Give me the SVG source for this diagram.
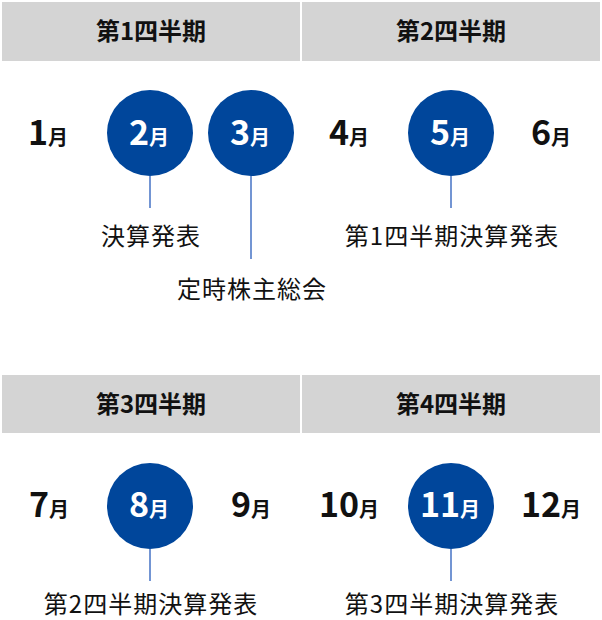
<svg xmlns="http://www.w3.org/2000/svg" width="602" height="620" viewBox="0 0 602 620">
<style>
.hdr{fill:#d4d4d4}
.ht{font-family:"Noto Sans CJK JP","Noto Sans",sans-serif;font-weight:bold;font-size:24px;fill:#111;text-anchor:middle}
.dot{fill:#00469b}
.m{font-family:"Noto Sans CJK JP","Noto Sans",sans-serif;font-weight:bold;fill:#111;text-anchor:middle}
.m .d{font-size:34px}
.m .u{font-size:20px}
.w{fill:#fff}
.lbl{font-family:"Noto Sans CJK JP","Noto Sans",sans-serif;font-size:24px;fill:#111;text-anchor:middle;letter-spacing:1px}
.conn line{stroke:#4472c4;stroke-width:1.5}
</style>
<g id="q1"><rect class="hdr" x="2" y="2" width="298" height="59"/><text class="ht" x="151" y="40">第1四半期</text></g>
<g id="q2"><rect class="hdr" x="302" y="2" width="298" height="59"/><text class="ht" x="451" y="40">第2四半期</text></g>
<g id="q3"><rect class="hdr" x="2" y="375" width="298" height="58"/><text class="ht" x="151" y="413">第3四半期</text></g>
<g id="q4"><rect class="hdr" x="302" y="375" width="298" height="58"/><text class="ht" x="451" y="413">第4四半期</text></g>

<g class="conn">
<line x1="150" y1="176" x2="150" y2="208"/>
<line x1="251" y1="176" x2="251" y2="259"/>
<line x1="451" y1="176" x2="451" y2="208"/>
<line x1="150" y1="549" x2="150" y2="581"/>
<line x1="451" y1="549" x2="451" y2="581"/>
</g>

<g id="m1"><text class="m" x="48" y="145"><tspan class="d">1</tspan><tspan class="u">月</tspan></text></g>
<g id="m2"><circle class="dot" cx="150" cy="133" r="43"/><text class="m w" x="149" y="145"><tspan class="d">2</tspan><tspan class="u">月</tspan></text></g>
<g id="m3"><circle class="dot" cx="251" cy="133" r="43"/><text class="m w" x="250" y="145"><tspan class="d">3</tspan><tspan class="u">月</tspan></text></g>
<g id="m4"><text class="m" x="349" y="145"><tspan class="d">4</tspan><tspan class="u">月</tspan></text></g>
<g id="m5"><circle class="dot" cx="451" cy="133" r="43"/><text class="m w" x="450" y="145"><tspan class="d">5</tspan><tspan class="u">月</tspan></text></g>
<g id="m6"><text class="m" x="551" y="145"><tspan class="d">6</tspan><tspan class="u">月</tspan></text></g>

<g id="m7"><text class="m" x="49" y="517"><tspan class="d">7</tspan><tspan class="u">月</tspan></text></g>
<g id="m8"><circle class="dot" cx="150" cy="506" r="43"/><text class="m w" x="149" y="517"><tspan class="d">8</tspan><tspan class="u">月</tspan></text></g>
<g id="m9"><text class="m" x="251" y="517"><tspan class="d">9</tspan><tspan class="u">月</tspan></text></g>
<g id="m10"><text class="m" x="349" y="517"><tspan class="d">10</tspan><tspan class="u">月</tspan></text></g>
<g id="m11"><circle class="dot" cx="451" cy="506" r="43"/><text class="m w" x="450" y="517"><tspan class="d">11</tspan><tspan class="u">月</tspan></text></g>
<g id="m12"><text class="m" x="551" y="517"><tspan class="d">12</tspan><tspan class="u">月</tspan></text></g>

<g id="l1"><text class="lbl" x="151" y="245">決算発表</text></g>
<g id="l2"><text class="lbl" x="252" y="298">定時株主総会</text></g>
<g id="l3"><text class="lbl" x="452" y="245">第1四半期決算発表</text></g>
<g id="l4"><text class="lbl" x="151" y="613">第2四半期決算発表</text></g>
<g id="l5"><text class="lbl" x="452" y="613">第3四半期決算発表</text></g>
</svg>
